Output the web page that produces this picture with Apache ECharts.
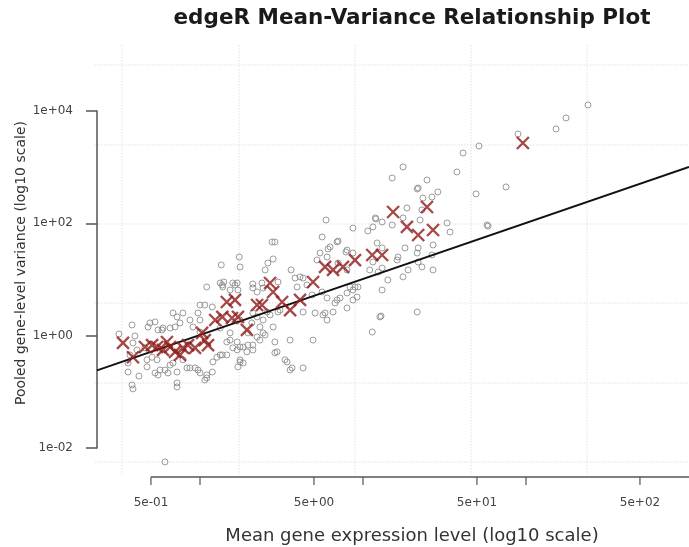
<!DOCTYPE html>
<html>
<head>
<meta charset="utf-8">
<script src="https://cdn.jsdelivr.net/npm/echarts@6/dist/echarts.min.js"></script>
<style>
html, body { margin: 0; padding: 0; background: #fff; }
#chart { width: 689px; height: 547px; }
</style>
</head>
<body>
<div id="chart"></div>
<script>
// per-gene mean and pooled variance (grey circles)
var geneMean = [
    0.318, 0.383, 0.399, 0.372, 0.362, 0.362, 0.383, 0.388, 0.422, 0.473,
    0.508, 0.493, 0.530, 0.553, 0.593, 0.655, 0.703, 0.754, 0.723, 0.683,
    0.786, 0.480, 0.585, 0.568, 0.553, 0.610, 0.655, 0.723, 0.723, 0.723,
    0.832, 0.932, 1.0, 1.10, 1.10, 1.07, 1.19, 1.20, 1.27, 1.33,
    1.46, 1.53, 1.69, 1.69, 1.76, 1.71, 1.84, 1.84, 1.97, 2.11,
    1.94, 0.388, 0.411, 0.460, 0.868, 0.906, 1.0, 1.33, 1.76, 2.11,
    0.473, 0.545, 0.786, 0.530, 0.636, 0.683, 0.868, 0.972, 0.972, 1.07,
    1.19, 1.37, 1.53, 1.10, 1.0, 1.33, 1.40, 1.59, 1.69, 0.610,
    1.37, 1.0,
    5.93, 5.61, 2.77, 2.88, 1.74, 1.35, 2.61, 2.81, 3.62, 2.51,
    8.68, 10.7, 11.5, 12.0, 6.10, 6.28, 5.45, 7.03, 7.86, 4.11,
    4.29, 2.11, 2.40, 11.5, 11.0, 12.4, 2.33, 2.51, 2.88, 2.97,
    3.32, 3.57, 4.29, 4.94, 2.58, 3.10, 5.08, 5.85, 6.02, 6.73,
    6.93, 7.98, 8.68, 11.4, 6.93, 6.02, 5.22, 8.68, 3.83, 4.53,
    4.87, 5.61, 6.02, 7.23, 8.32, 7.98, 6.55, 5.68, 4.29, 3.01,
    2.69, 2.44, 2.24, 2.33, 2.08, 1.97, 2.24, 2.44, 2.81, 3.57,
    2.88, 3.42, 3.67, 1.76, 2.11, 1.76, 1.59, 1.53, 1.46, 1.38,
    1.64, 1.71, 1.76, 2.24, 2.11, 2.44, 3.01, 3.94, 7.03, 7.98,
    8.68, 9.19, 9.32, 12.9, 13.1, 14.2, 21.5,
    51.5, 41.1, 17.6, 15.1, 24.7, 37.7, 21.8, 28.8, 26.5, 23.3,
    49.4, 18.6, 23.0, 11.9, 13.1, 15.1, 17.6, 22.4, 32.8, 34.2,
    57.7, 12.2, 13.1, 7.98, 18.1, 21.8, 26.9, 21.5, 16.4, 16.2,
    21.8, 26.5, 13.1, 17.6, 18.9, 23.0, 26.9, 8.93, 12.7, 240,
    176, 153, 89.3, 75.4, 21.5, 58.5
];
var geneVar = [
    1.04, 1.51, 0.96, 0.44, 0.316, 0.218, 0.128, 0.109, 0.185, 0.27,
    0.40, 1.64, 1.71, 1.23, 1.33, 1.33, 1.39, 1.64, 2.10, 2.47,
    2.47, 1.39, 1.23, 0.237, 0.193, 0.237, 0.29, 0.218, 0.139, 0.118,
    0.258, 0.258, 0.21, 0.193, 0.171, 0.157, 0.218, 0.33, 0.40, 0.44,
    0.75, 1.09, 0.75, 0.54, 0.33, 0.27, 0.316, 0.61, 0.66, 0.54,
    0.50, 0.72, 0.54, 0.59, 1.85, 1.39, 1.13, 1.33, 1.85, 2.47,
    0.36, 0.36, 0.36, 0.21, 0.21, 0.316, 0.258, 0.237, 2.47, 3.43,
    3.16, 7.81, 6.36, 7.20, 3.43, 8.48, 8.84, 8.48, 8.48, 0.0054,
    0.44, 1.85,
    113, 56.2, 45.8, 45.8, 24.7, 17.8, 19.3, 22.8, 14.5, 14.5,
    81, 72, 85, 118, 34.3, 37.3, 29.1, 47.7, 30.4, 10.9,
    10.4, 8.14, 8.48, 20.1, 14.5, 13.3, 0.81, 1.0, 0.75, 0.50,
    0.36, 0.237, 0.258, 0.81, 2.57, 2.79, 2.47, 2.47, 1.85, 3.73,
    4.22, 5.62, 4.22, 1.13, 45.8, 24.7, 21.8, 29.1, 10.4, 7.81,
    5.18, 5.86, 4.58, 4.58, 7.20, 3.04, 2.57, 2.28, 2.57, 2.57,
    2.28, 1.85, 2.10, 1.39, 1.64, 1.09, 0.92, 1.09, 1.39, 0.81,
    0.48, 0.33, 0.258, 0.36, 0.66, 0.61, 0.59, 0.81, 0.44, 7.20,
    7.81, 6.36, 16.4, 5.86, 6.91, 6.91, 8.84, 7.20, 19.3, 14.5,
    6.36, 4.77, 7.20, 2.18, 6.36, 9.6, 2.57,
    2370, 1778, 1000, 636, 586, 815, 422, 358, 291, 279,
    330, 185, 171, 123, 104, 92, 123, 113, 100, 69,
    92, 44.0, 35.8, 32.9, 35.8, 35.8, 40.5, 29.1, 24.7, 21.8,
    20.1, 26.8, 15.7, 10.9, 14.5, 16.4, 14.5, 7.20, 2.10, 12800,
    7500, 4770, 3880, 440, 405, 88
];

// binned means / variances (red crosses)
var binMean = [
    0.337, 0.388, 0.460, 0.508, 0.545, 0.593, 0.627, 0.655, 0.703, 0.754,
    0.786, 0.844, 0.932, 1.03, 1.07, 1.12, 1.24, 1.37, 1.46, 1.57,
    1.64, 1.71, 1.94, 2.24, 2.40, 2.69, 2.81, 3.19, 3.57, 4.11,
    4.94, 5.85, 6.55, 7.54, 8.93, 11.4, 13.1, 15.3, 18.6, 21.8,
    24.7, 26.9, 95.7
];
var binVar = [
    0.72, 0.40, 0.61, 0.66, 0.61, 0.54, 0.75, 0.61, 0.50, 0.44,
    0.59, 0.66, 0.59, 1.09, 0.81, 0.66, 1.85, 2.10, 3.88, 2.01,
    4.22, 2.10, 1.23, 3.43, 3.43, 8.48, 5.86, 3.88, 2.79, 4.22,
    8.84, 16.4, 14.5, 16.4, 21.8, 26.8, 26.8, 157, 85, 61,
    193, 75, 2680
];

// poisson line var = mean
var lineMean = [0.2334, 1000];
var lineVar = [0.2334, 1000];

var xLabelTicks = [0.5, 5, 50, 500];
var xMinorTicks = [1, 10, 100];
var yTicks = [0.01, 1, 100, 10000];

var xMin = 0.2334, xMax = 1000;
var yMin = 0.00291, yMax = 23700;

function fmtExp(v) {
    var parts = v.toExponential(0).split('e');
    var e = parseInt(parts[1], 10);
    var sign = e < 0 ? '-' : '+';
    var a = Math.abs(e);
    return parts[0] + 'e' + sign + (a < 10 ? '0' + a : a);
}

function pairs(xs, ys) {
    return xs.map(function (x, i) { return [x, ys[i]]; });
}

var chart = echarts.init(document.getElementById('chart'));

var axisColor = '#555';
var textColor = '#444';
var font = 'DejaVu Sans';
var pxPerDecade = 163;
var yTickVals = yTicks.map(Math.log10);
var xAllTicks = xLabelTicks.concat(xMinorTicks);

var option = {
    backgroundColor: '#fff',
    animation: false,
    grid: [
        // faint background grid (vertical lines)
        { left: 122, width: 465, top: 45, bottom: 72 },
        // faint background grid (horizontal lines)
        { left: 95, right: 0, top: 65, height: 397 },
        // data area
        { left: 97, right: 0, top: 90, bottom: 70 },
        // y axis
        { left: 97, width: 10, top: 111, height: 337 },
        // x axis labels 5e-01 .. 5e+02
        { left: 151, width: pxPerDecade * (xLabelTicks.length - 1), top: 400, bottom: 70 }
    ],
    xAxis: [
        { gridIndex: 0, type: 'value', min: 0, max: 4, interval: 1,
          axisLine: { show: false }, axisTick: { show: false }, axisLabel: { show: false },
          splitLine: { show: true, lineStyle: { color: '#ececec', type: 'dotted', width: 1.5 } } },
        { gridIndex: 1, type: 'value', min: 0, max: 1, show: false },
        { gridIndex: 2, type: 'log', logBase: 10, min: xMin, max: xMax, show: false },
        { gridIndex: 3, type: 'value', min: 0, max: 1, show: false },
        { gridIndex: 4, type: 'value', min: 0, max: xLabelTicks.length - 1, interval: 1,
          axisLine: { show: false }, axisTick: { show: false },
          axisLabel: { show: true, margin: 20, color: textColor, fontFamily: font, fontSize: 12,
                       formatter: function (v) { return fmtExp(xLabelTicks[Math.round(v)]); } },
          splitLine: { show: false } }
    ],
    yAxis: [
        { gridIndex: 0, type: 'value', min: 0, max: 1, show: false },
        { gridIndex: 1, type: 'value', min: 0, max: 5, interval: 1,
          axisLine: { show: false }, axisTick: { show: false }, axisLabel: { show: false },
          splitLine: { show: true, lineStyle: { color: '#ececec', type: 'dotted', width: 1.5 } } },
        { gridIndex: 2, type: 'log', logBase: 10, min: yMin, max: yMax, show: false },
        { gridIndex: 3, type: 'value', min: yTickVals[0], max: yTickVals[yTickVals.length - 1], interval: 2,
          axisLine: { show: true, lineStyle: { color: axisColor, width: 1.5 } },
          axisTick: { show: true, length: 11, lineStyle: { color: axisColor, width: 1.5 } },
          axisLabel: { show: true, margin: 24, color: textColor, fontFamily: font, fontSize: 12,
                       formatter: function (v) { return fmtExp(Math.pow(10, v)); } },
          splitLine: { show: false } },
        { gridIndex: 4, type: 'value', min: 0, max: 1, show: false }
    ],
    graphic: [
        { type: 'text', x: 412, y: 18,
          style: { text: 'edgeR Mean-Variance Relationship Plot', fill: '#1a1a1a',
                   font: 'bold 21.5px "DejaVu Sans"', align: 'center', verticalAlign: 'middle',
                   textAlign: 'center', textVerticalAlign: 'middle' } },
        { type: 'text', x: 412, y: 536,
          style: { text: 'Mean gene expression level (log10 scale)', fill: '#333',
                   font: '18px "DejaVu Sans"', align: 'center', verticalAlign: 'middle',
                   textAlign: 'center', textVerticalAlign: 'middle' } },
        { type: 'text', x: 21, y: 263, rotation: Math.PI / 2,
          style: { text: 'Pooled gene-level variance (log10 scale)', fill: '#333',
                   font: '14px "DejaVu Sans"', align: 'center', verticalAlign: 'middle',
                   textAlign: 'center', textVerticalAlign: 'middle' } }
    ],
    series: [
        {
            type: 'scatter', xAxisIndex: 2, yAxisIndex: 2,
            data: pairs(geneMean, geneVar),
            symbol: 'circle', symbolSize: 6,
            itemStyle: { color: 'transparent', borderColor: '#8a8a8a', borderWidth: 1, opacity: 0.85 },
            z: 2
        },
        {
            type: 'line', xAxisIndex: 2, yAxisIndex: 2,
            data: pairs(lineMean, lineVar),
            symbol: 'none',
            lineStyle: { color: '#111', width: 2 },
            z: 3
        },
        {
            type: 'scatter', xAxisIndex: 2, yAxisIndex: 2,
            data: pairs(binMean, binVar),
            symbol: 'path://M0,0L10,10M10,0L0,10', symbolSize: 12,
            itemStyle: { color: 'transparent', borderColor: '#8e1b1b', borderWidth: 2.4 },
            z: 4
        },
        // x axis line along the bottom of the data area, from 5e-01 onward
        {
            type: 'line', xAxisIndex: 2, yAxisIndex: 2,
            data: [[xLabelTicks[0], yMin], [xMax, yMin]],
            symbol: 'none', clip: false, silent: true,
            lineStyle: { color: axisColor, width: 1.5 },
            z: 5
        },
        // x axis ticks
        {
            type: 'scatter', xAxisIndex: 2, yAxisIndex: 2,
            data: xAllTicks.map(function (t) { return [t, yMin]; }),
            symbol: 'rect', symbolSize: [1.5, 8], symbolOffset: [0, 4],
            clip: false, silent: true,
            itemStyle: { color: axisColor },
            z: 5
        }
    ]
};

chart.setOption(option);
</script>
</body>
</html>
